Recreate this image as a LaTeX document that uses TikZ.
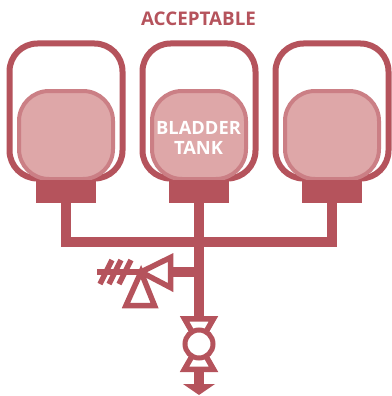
\documentclass[tikz,border=0pt]{standalone}
\usepackage{fontspec}
\setmainfont{Open Sans}
\usepackage{xcolor}
\usetikzlibrary{positioning,arrows.meta,calc}
\definecolor{deepred}{RGB}{181,83,92}
\definecolor{softred}{RGB}{222,167,168}
\definecolor{midred}{RGB}{203,127,133}
\tikzset{
    tank/.style={rectangle,draw=deepred,line width=6pt,rounded corners=28pt,fill=white,minimum width=113pt,minimum height=135pt},
    bladder/.style={rectangle,draw=midred,line width=4pt,rounded corners=30pt,fill=softred,minimum width=94pt,minimum height=88pt},
    base/.style={rectangle,fill=deepred,minimum width=60pt,minimum height=23pt,inner sep=0pt},
    pipe/.style={draw=deepred,line width=10pt},
    tailpipe/.style={draw=deepred,line width=5.5pt},
    valve/.style={draw=deepred,line width=5.5pt,miter limit=10,fill=white},
    valvering/.style={circle,draw=deepred,line width=5pt,fill=white,minimum size=28pt,inner sep=0pt},
    caption/.style={text=deepred,font=\fontsize{18.8}{20}\selectfont\bfseries},
    tanklabel/.style={text=white,align=center,font=\fontsize{18.3}{20}\selectfont\bfseries},
}
\begin{document}
\begin{tikzpicture}[x=1pt,y=-1pt,node distance=14pt]
\useasboundingbox (0,0) rectangle (391,396);
\node[tank] (tankA) at (66,111) {};
\node[tank,right=of tankA] (tankB) {};
\node[tank,right=of tankB] (tankC) {};
\node[bladder] (bladA) at (66,135) {};
\node[bladder] (bladB) at (199,135) {};
\node[bladder] (bladC) at (332,135) {};
\node[base] (baseA) at (66,191.5) {};
\node[base] (baseB) at (199,191.5) {};
\node[base] (baseC) at (332,191.5) {};
\node[caption] (title) at (198.5,19) {ACCEPTABLE};
\node[tanklabel] (tanktext) at (198.5,138) {BLADDER\\TANK};

\coordinate (tee) at (199,242);
\coordinate (branch) at (199,272);
\coordinate (tip) at (141,272);
\coordinate (tail) at (97,272);
\coordinate (centre) at (199,344);
\coordinate (outlet) at (199,385);

% pipework
\draw[pipe] (baseA.south) |- (tee) -| (baseC.south);
\draw[pipe] (baseB.south) -- (centre);
\draw[pipe] (branch) -- (173,272);
\draw[tailpipe] (tail) -- (tip);
\foreach \hx in {0,9,19}
  \draw[tailpipe] ($(100,284)+(\hx,0)$) -- ($(112,260)+(\hx,0)$);

% relief valve
\draw[valve] (tip) -- (170.5,257.5) -- (170.5,287.5) -- cycle;
\draw[valve] (tip) -- (126,305.5) -- (154.5,305.5) -- cycle;

% bottom valve
\draw[valve] (centre) -- (184.5,318.75) -- (213.5,318.75) -- cycle;
\draw[valve] (centre) -- (184.5,369.25) -- (213.5,369.25) -- cycle;
\node[valvering] (ring) at (centre) {};
\draw[pipe] (199,372) -- (outlet);
\fill[deepred] (183,384) -- (215,384) -- (199,395) -- cycle;
\end{tikzpicture}
\end{document}
